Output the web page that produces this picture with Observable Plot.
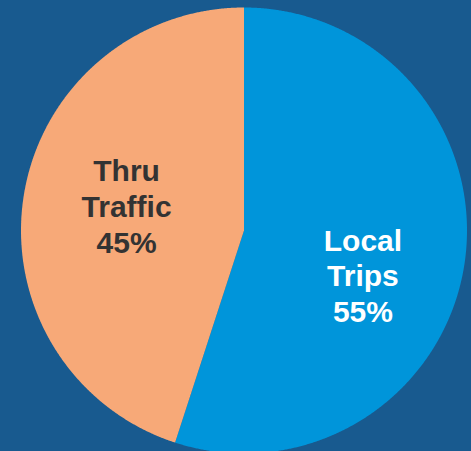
<!DOCTYPE html>
<html><head><meta charset="utf-8">
<script src="https://cdn.jsdelivr.net/npm/d3@7"></script>
<script src="https://cdn.jsdelivr.net/npm/@observablehq/plot@0.6"></script>
<style>html,body{margin:0;padding:0;background:#185a8f;overflow:hidden}#chart svg{display:block}</style>
</head><body><div id="chart"></div>
<script>
const categories = ["Local Trips", "Thru Traffic"];
const shares = [55, 45];
const labels = ["Local\nTrips\n55%", "Thru\nTraffic\n45%"];
const colors = ["#0095da", "#f7a978"];

const arcs = d3.pie().sort(null).value(d => d)(shares);
const polys = [];
arcs.forEach((a, i) => {
  polys.push({cat: categories[i], x: 0, y: 0});
  const n = Math.ceil((a.endAngle - a.startAngle) / (Math.PI / 720));
  for (let k = 0; k <= n; k++) {
    const t = a.startAngle + (a.endAngle - a.startAngle) * k / n;
    polys.push({cat: categories[i], x: Math.sin(t), y: Math.cos(t)});
  }
  polys.push({cat: categories[i], x: 0, y: 0});
});
const labelRows = arcs.map((a, i) => {
  const m = (a.startAngle + a.endAngle) / 2;
  return {cat: categories[i], text: labels[i], x: 0.54 * Math.sin(m), y: 0.54 * Math.cos(m)};
});

const R = 223, cx = 243.5, cy = 230, W = 471, H = 451;
const chart = Plot.plot({
  width: W, height: H, margin: 0,
  x: {domain: [-cx / R, (W - cx) / R], axis: null},
  y: {domain: [-(H - cy) / R, cy / R], axis: null},
  color: {domain: categories, range: colors},
  style: {background: "transparent", overflow: "visible"},
  marks: [
    Plot.line(polys, {x: "x", y: "y", z: "cat", fill: "cat", stroke: "none", curve: "linear"}),
    Plot.text(labelRows.filter(d => d.cat === "Local Trips"), {
      x: "x", y: "y", text: "text", fill: "white", fontSize: 30, fontWeight: "bold",
      fontFamily: "Liberation Sans, Arial, sans-serif", lineHeight: 1.19, dy: 25.5
    }),
    Plot.text(labelRows.filter(d => d.cat === "Thru Traffic"), {
      x: "x", y: "y", text: "text", fill: "#333333", fontSize: 30, fontWeight: "bold",
      fontFamily: "Liberation Sans, Arial, sans-serif", lineHeight: 1.19, dx: 1.5, dy: -6
    })
  ]
});
document.getElementById("chart").appendChild(chart);
</script>
</body></html>
